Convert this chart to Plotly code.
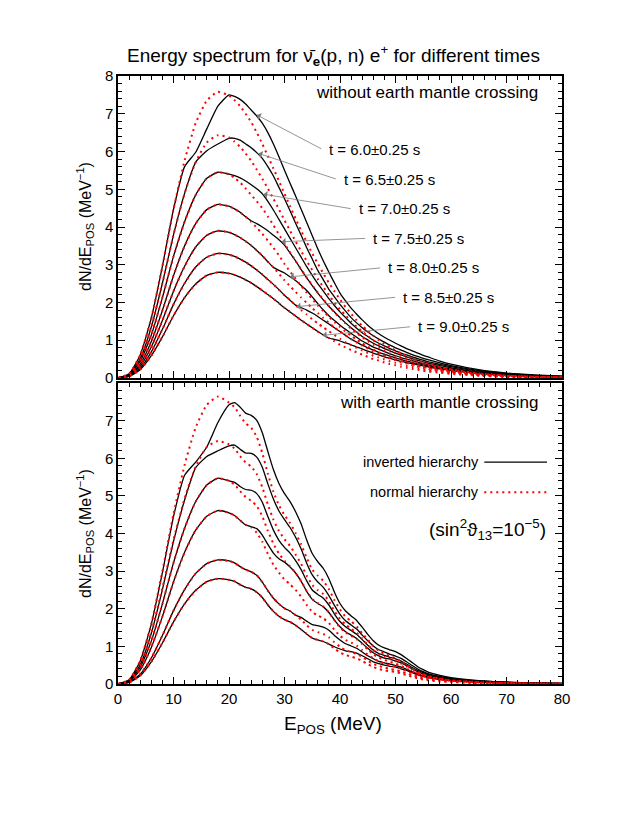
import plotly.graph_objects as go

INK = "#000000"
RED = "#ff0000"
ARROW_GRAY = "#7a7a7a"
FONT = "Liberation Sans, Arial, Helvetica, sans-serif"

# positron energy grid (MeV)
E_POS = [0, 2, 4, 6, 8, 10, 12, 14, 16, 18,
         20, 21, 22, 23, 24, 25, 26, 27, 28, 29, 30, 31, 32, 33, 34, 35, 36, 37, 38,
         39, 40, 41, 42, 43, 44, 45, 46, 47, 48, 49, 50, 51, 52, 53, 54, 55, 56,
         58, 60, 65, 70, 75, 80]

TIMES = ["6.0", "6.5", "7.0", "7.5", "8.0", "8.5", "9.0"]

# ---- top panel: without earth mantle crossing ----
# inverted hierarchy (solid black)
TOP_INV_60 = [0, 0.11, 0.61, 1.59, 2.96, 4.47, 5.6, 5.98, 6.6, 7.2,
              7.5, 7.46, 7.38, 7.26, 7.1, 6.94, 6.75, 6.5, 6.2, 5.86, 5.5, 5.16, 4.82, 4.47, 4.12, 3.77, 3.42, 3.1, 2.8,
              2.52, 2.25, 2.04, 1.85, 1.69, 1.54, 1.4, 1.28, 1.17, 1.08, 1.0, 0.92, 0.85, 0.78, 0.72, 0.66, 0.6, 0.55,
              0.45, 0.37, 0.22, 0.13, 0.08, 0.05]
TOP_INV_65 = [0, 0.1, 0.51, 1.35, 2.51, 3.79, 4.89, 5.72, 6.02, 6.2,
              6.35, 6.35, 6.3, 6.2, 6.1, 5.97, 5.82, 5.6, 5.35, 5.05, 4.75, 4.43, 4.1, 3.78, 3.45, 3.15, 2.85, 2.6, 2.35,
              2.15, 1.95, 1.77, 1.6, 1.46, 1.33, 1.22, 1.12, 1.03, 0.95, 0.87, 0.8, 0.74, 0.68, 0.62, 0.57, 0.52, 0.48,
              0.4, 0.33, 0.2, 0.12, 0.07, 0.045]
TOP_INV_70 = [0, 0.08, 0.44, 1.14, 2.13, 3.22, 4.14, 4.85, 5.29, 5.45,
              5.4, 5.36, 5.3, 5.22, 5.12, 5.01, 4.88, 4.68, 4.45, 4.2, 3.95, 3.7, 3.45, 3.2, 2.95, 2.72, 2.5, 2.3, 2.1,
              1.92, 1.75, 1.6, 1.45, 1.32, 1.2, 1.1, 1.0, 0.92, 0.85, 0.78, 0.72, 0.66, 0.61, 0.56, 0.51, 0.47, 0.43,
              0.36, 0.3, 0.18, 0.11, 0.065, 0.04]
TOP_INV_75 = [0, 0.07, 0.37, 0.97, 1.79, 2.71, 3.5, 4.09, 4.46, 4.6,
              4.55, 4.48, 4.39, 4.27, 4.16, 4.09, 4.0, 3.9, 3.78, 3.66, 3.52, 3.31, 3.1, 2.87, 2.65, 2.45, 2.25, 2.07, 1.9,
              1.75, 1.6, 1.46, 1.33, 1.21, 1.1, 1.01, 0.92, 0.85, 0.78, 0.72, 0.66, 0.61, 0.56, 0.51, 0.47, 0.43, 0.39,
              0.33, 0.27, 0.16, 0.1, 0.06, 0.035]
TOP_INV_80 = [0, 0.06, 0.31, 0.82, 1.52, 2.3, 2.96, 3.47, 3.78, 3.9,
              3.86, 3.8, 3.72, 3.62, 3.51, 3.38, 3.24, 3.08, 2.93, 2.85, 2.78, 2.68, 2.58, 2.45, 2.32, 2.15, 1.97, 1.8, 1.65,
              1.52, 1.4, 1.29, 1.18, 1.08, 0.98, 0.9, 0.82, 0.76, 0.7, 0.64, 0.59, 0.54, 0.5, 0.46, 0.42, 0.38, 0.35,
              0.29, 0.24, 0.14, 0.085, 0.05, 0.03]
TOP_INV_85 = [0, 0.05, 0.26, 0.69, 1.29, 1.95, 2.51, 2.94, 3.2, 3.3,
              3.27, 3.22, 3.15, 3.07, 2.97, 2.86, 2.74, 2.61, 2.48, 2.34, 2.19, 2.06, 1.93, 1.86, 1.8, 1.72, 1.63, 1.53, 1.43,
              1.33, 1.23, 1.13, 1.03, 0.95, 0.87, 0.8, 0.74, 0.68, 0.63, 0.58, 0.53, 0.49, 0.45, 0.41, 0.38, 0.35, 0.32,
              0.26, 0.21, 0.13, 0.08, 0.045, 0.025]
TOP_INV_90 = [0, 0.04, 0.22, 0.59, 1.09, 1.65, 2.13, 2.49, 2.72, 2.8,
              2.77, 2.73, 2.67, 2.6, 2.52, 2.42, 2.32, 2.21, 2.1, 1.98, 1.86, 1.75, 1.64, 1.53, 1.43, 1.33, 1.23, 1.14, 1.06,
              1.02, 0.98, 0.93, 0.88, 0.82, 0.77, 0.71, 0.66, 0.61, 0.56, 0.52, 0.48, 0.44, 0.41, 0.38, 0.35, 0.32, 0.29,
              0.24, 0.2, 0.12, 0.07, 0.04, 0.02]

# normal hierarchy (red dotted)
TOP_NOR_60 = [0, 0.11, 0.61, 1.59, 2.96, 4.47, 5.76, 6.75, 7.35, 7.58,
              7.48, 7.36, 7.2, 7.0, 6.78, 6.5, 6.2, 5.88, 5.55, 5.22, 4.88, 4.55, 4.22, 3.9, 3.6, 3.3, 3.03, 2.77, 2.52,
              2.3, 2.08, 1.88, 1.7, 1.53, 1.38, 1.25, 1.12, 1.0, 0.9, 0.81, 0.73, 0.65, 0.58, 0.52, 0.46, 0.41, 0.37,
              0.29, 0.23, 0.12, 0.065, 0.035, 0.02]
TOP_NOR_65 = [0, 0.1, 0.51, 1.35, 2.51, 3.79, 4.89, 5.72, 6.24, 6.43,
              6.37, 6.26, 6.12, 5.95, 5.75, 5.52, 5.28, 5.02, 4.75, 4.47, 4.18, 3.9, 3.62, 3.36, 3.1, 2.86, 2.62, 2.41, 2.2,
              2.0, 1.82, 1.66, 1.5, 1.36, 1.23, 1.11, 1.0, 0.9, 0.81, 0.73, 0.66, 0.59, 0.53, 0.47, 0.42, 0.38, 0.34,
              0.27, 0.21, 0.11, 0.06, 0.032, 0.018]
TOP_NOR_70 = [0, 0.08, 0.44, 1.14, 2.13, 3.22, 4.14, 4.85, 5.29, 5.45,
              5.4, 5.3, 5.18, 5.02, 4.85, 4.68, 4.5, 4.28, 4.05, 3.8, 3.56, 3.33, 3.1, 2.88, 2.66, 2.46, 2.26, 2.08, 1.9,
              1.74, 1.58, 1.44, 1.31, 1.19, 1.08, 0.98, 0.88, 0.8, 0.72, 0.65, 0.58, 0.52, 0.47, 0.42, 0.38, 0.34, 0.3,
              0.24, 0.19, 0.1, 0.055, 0.03, 0.016]
TOP_NOR_75 = [0, 0.07, 0.37, 0.97, 1.79, 2.71, 3.5, 4.09, 4.46, 4.6,
              4.55, 4.48, 4.39, 4.27, 4.14, 3.98, 3.82, 3.64, 3.45, 3.25, 3.02, 2.82, 2.63, 2.44, 2.26, 2.09, 1.92, 1.77, 1.62,
              1.48, 1.35, 1.23, 1.12, 1.02, 0.92, 0.83, 0.75, 0.68, 0.61, 0.55, 0.5, 0.45, 0.4, 0.36, 0.32, 0.29, 0.26,
              0.21, 0.16, 0.09, 0.048, 0.026, 0.014]
TOP_NOR_80 = [0, 0.06, 0.31, 0.82, 1.52, 2.3, 2.96, 3.47, 3.78, 3.9,
              3.86, 3.8, 3.72, 3.62, 3.51, 3.38, 3.24, 3.08, 2.93, 2.76, 2.59, 2.43, 2.28, 2.13, 1.99, 1.85, 1.72, 1.59, 1.46,
              1.34, 1.23, 1.13, 1.03, 0.94, 0.86, 0.78, 0.7, 0.64, 0.58, 0.52, 0.47, 0.42, 0.38, 0.34, 0.3, 0.27, 0.24,
              0.2, 0.16, 0.08, 0.043, 0.023, 0.012]
TOP_NOR_85 = [0, 0.05, 0.26, 0.69, 1.29, 1.95, 2.51, 2.94, 3.2, 3.3,
              3.27, 3.22, 3.15, 3.07, 2.97, 2.86, 2.74, 2.61, 2.48, 2.34, 2.19, 2.06, 1.93, 1.8, 1.68, 1.56, 1.45, 1.34, 1.24,
              1.14, 1.04, 0.95, 0.87, 0.8, 0.73, 0.66, 0.59, 0.54, 0.49, 0.44, 0.4, 0.36, 0.32, 0.29, 0.26, 0.23, 0.2,
              0.17, 0.13, 0.07, 0.036, 0.02, 0.01]
TOP_NOR_90 = [0, 0.04, 0.22, 0.59, 1.09, 1.65, 2.13, 2.49, 2.72, 2.8,
              2.77, 2.73, 2.67, 2.6, 2.52, 2.42, 2.32, 2.21, 2.1, 1.98, 1.86, 1.75, 1.64, 1.53, 1.43, 1.33, 1.23, 1.14, 1.06,
              0.97, 0.88, 0.81, 0.74, 0.68, 0.62, 0.56, 0.5, 0.46, 0.41, 0.37, 0.34, 0.3, 0.27, 0.24, 0.22, 0.19, 0.17,
              0.14, 0.11, 0.06, 0.03, 0.017, 0.008]

# ---- bottom panel: with earth mantle crossing (no t = 8.0 curve) ----
BOT_INV_60 = [0, 0.11, 0.61, 1.59, 2.96, 4.45, 5.55, 5.9, 6.3, 6.95,
              7.42, 7.48, 7.36, 7.2, 7.14, 7.01, 6.68, 6.18, 5.7, 5.33, 5.06, 4.85, 4.58, 4.25, 3.83, 3.47, 3.25, 3.07, 2.8,
              2.44, 2.14, 1.94, 1.81, 1.69, 1.51, 1.32, 1.15, 1.03, 0.96, 0.91, 0.86, 0.78, 0.68, 0.57, 0.46, 0.38, 0.31,
              0.23, 0.17, 0.09, 0.05, 0.03, 0.017]
BOT_INV_65 = [0, 0.1, 0.51, 1.35, 2.51, 3.79, 4.89, 5.75, 6.05, 6.2,
              6.33, 6.35, 6.24, 6.14, 6.13, 6.03, 5.76, 5.32, 4.92, 4.6, 4.37, 4.16, 3.9, 3.59, 3.21, 2.9, 2.71, 2.57, 2.35,
              2.09, 1.85, 1.68, 1.57, 1.46, 1.3, 1.15, 1.01, 0.91, 0.85, 0.79, 0.74, 0.68, 0.59, 0.49, 0.4, 0.33, 0.27,
              0.2, 0.15, 0.08, 0.046, 0.025, 0.015]
BOT_INV_70 = [0, 0.08, 0.44, 1.14, 2.13, 3.22, 4.14, 4.85, 5.29, 5.47,
              5.4, 5.36, 5.25, 5.17, 5.15, 5.06, 4.83, 4.45, 4.09, 3.82, 3.63, 3.48, 3.28, 3.04, 2.74, 2.5, 2.38, 2.28, 2.1,
              1.86, 1.66, 1.52, 1.42, 1.32, 1.18, 1.03, 0.9, 0.81, 0.76, 0.71, 0.67, 0.61, 0.53, 0.44, 0.36, 0.3, 0.25,
              0.18, 0.135, 0.07, 0.042, 0.023, 0.013]
BOT_INV_75 = [0, 0.07, 0.37, 0.97, 1.79, 2.71, 3.5, 4.09, 4.46, 4.61,
              4.55, 4.48, 4.35, 4.23, 4.18, 4.13, 3.96, 3.71, 3.48, 3.33, 3.24, 3.11, 2.95, 2.73, 2.46, 2.25, 2.14, 2.05, 1.9,
              1.7, 1.52, 1.39, 1.3, 1.21, 1.08, 0.95, 0.83, 0.75, 0.69, 0.66, 0.61, 0.56, 0.49, 0.4, 0.33, 0.27, 0.22,
              0.165, 0.12, 0.064, 0.038, 0.022, 0.012]
BOT_INV_85 = [0, 0.05, 0.26, 0.69, 1.29, 1.95, 2.51, 2.94, 3.2, 3.3,
              3.27, 3.22, 3.12, 3.04, 2.98, 2.89, 2.71, 2.48, 2.28, 2.13, 2.01, 1.94, 1.83, 1.77, 1.67, 1.58, 1.55, 1.51, 1.43,
              1.29, 1.17, 1.07, 1.01, 0.95, 0.85, 0.75, 0.67, 0.6, 0.56, 0.53, 0.49, 0.45, 0.39, 0.32, 0.27, 0.22, 0.18,
              0.13, 0.095, 0.052, 0.03, 0.016, 0.008]
BOT_INV_90 = [0, 0.04, 0.22, 0.59, 1.09, 1.65, 2.13, 2.49, 2.72, 2.8,
              2.77, 2.73, 2.64, 2.57, 2.53, 2.44, 2.3, 2.1, 1.93, 1.8, 1.71, 1.65, 1.56, 1.45, 1.33, 1.22, 1.17, 1.13, 1.06,
              0.99, 0.93, 0.88, 0.86, 0.82, 0.75, 0.67, 0.59, 0.54, 0.5, 0.47, 0.45, 0.4, 0.36, 0.3, 0.245, 0.2, 0.165,
              0.12, 0.09, 0.048, 0.027, 0.014, 0.007]

BOT_NOR_60 = [0, 0.11, 0.62, 1.6, 3.0, 4.52, 5.82, 6.82, 7.42, 7.64,
              7.48, 7.36, 7.13, 6.93, 6.81, 6.57, 6.14, 5.59, 5.11, 4.75, 4.49, 4.28, 4.01, 3.71, 3.35, 3.04, 2.88, 2.74, 2.52,
              2.23, 1.98, 1.79, 1.67, 1.53, 1.35, 1.18, 1.01, 0.88, 0.8, 0.74, 0.68, 0.6, 0.5, 0.41, 0.32, 0.26, 0.21,
              0.15, 0.1, 0.05, 0.025, 0.013, 0.007]
BOT_NOR_65 = [0, 0.1, 0.52, 1.37, 2.55, 3.83, 4.93, 5.78, 6.3, 6.46,
              6.37, 6.26, 6.06, 5.89, 5.78, 5.58, 5.23, 4.77, 4.37, 4.07, 3.85, 3.67, 3.44, 3.19, 2.88, 2.63, 2.49, 2.39, 2.2,
              1.94, 1.73, 1.58, 1.47, 1.36, 1.21, 1.04, 0.9, 0.79, 0.72, 0.66, 0.61, 0.54, 0.46, 0.37, 0.29, 0.24, 0.19,
              0.14, 0.09, 0.045, 0.023, 0.012, 0.006]
BOT_NOR_70 = [0, 0.08, 0.44, 1.14, 2.13, 3.22, 4.14, 4.85, 5.29, 5.47,
              5.4, 5.3, 5.13, 4.97, 4.87, 4.73, 4.46, 4.07, 3.73, 3.46, 3.28, 3.13, 2.95, 2.74, 2.47, 2.26, 2.15, 2.06, 1.9,
              1.69, 1.5, 1.37, 1.28, 1.19, 1.06, 0.92, 0.79, 0.7, 0.64, 0.59, 0.54, 0.48, 0.41, 0.33, 0.27, 0.21, 0.17,
              0.12, 0.085, 0.04, 0.021, 0.011, 0.005]
BOT_NOR_75 = [0, 0.07, 0.37, 0.97, 1.79, 2.71, 3.5, 4.09, 4.46, 4.61,
              4.55, 4.48, 4.35, 4.23, 4.16, 4.02, 3.78, 3.46, 3.17, 2.96, 2.78, 2.65, 2.5, 2.32, 2.1, 1.92, 1.82, 1.75, 1.62,
              1.44, 1.28, 1.17, 1.1, 1.02, 0.9, 0.78, 0.68, 0.6, 0.54, 0.5, 0.47, 0.41, 0.35, 0.28, 0.22, 0.18, 0.15,
              0.105, 0.07, 0.036, 0.018, 0.009, 0.005]
BOT_NOR_85 = [0, 0.05, 0.26, 0.69, 1.29, 1.95, 2.51, 2.94, 3.2, 3.3,
              3.27, 3.22, 3.12, 3.04, 2.98, 2.89, 2.71, 2.48, 2.28, 2.13, 2.01, 1.94, 1.83, 1.71, 1.56, 1.44, 1.38, 1.33, 1.24,
              1.11, 0.99, 0.9, 0.85, 0.8, 0.72, 0.62, 0.53, 0.48, 0.44, 0.4, 0.37, 0.33, 0.28, 0.23, 0.18, 0.145, 0.115,
              0.085, 0.06, 0.028, 0.014, 0.007, 0.003]
BOT_NOR_90 = [0, 0.04, 0.22, 0.59, 1.09, 1.65, 2.13, 2.49, 2.72, 2.8,
              2.77, 2.73, 2.64, 2.57, 2.53, 2.44, 2.3, 2.1, 1.93, 1.8, 1.71, 1.65, 1.56, 1.45, 1.33, 1.22, 1.17, 1.13, 1.06,
              0.94, 0.84, 0.77, 0.73, 0.68, 0.61, 0.53, 0.45, 0.4, 0.36, 0.34, 0.32, 0.28, 0.235, 0.19, 0.15, 0.12, 0.097,
              0.07, 0.05, 0.024, 0.011, 0.006, 0.003]

TOP_INV = [TOP_INV_60, TOP_INV_65, TOP_INV_70, TOP_INV_75, TOP_INV_80, TOP_INV_85, TOP_INV_90]
TOP_NOR = [TOP_NOR_60, TOP_NOR_65, TOP_NOR_70, TOP_NOR_75, TOP_NOR_80, TOP_NOR_85, TOP_NOR_90]
BOT_INV = [BOT_INV_60, BOT_INV_65, BOT_INV_70, BOT_INV_75, BOT_INV_85, BOT_INV_90]
BOT_NOR = [BOT_NOR_60, BOT_NOR_65, BOT_NOR_70, BOT_NOR_75, BOT_NOR_85, BOT_NOR_90]

for s in TOP_INV + TOP_NOR + BOT_INV + BOT_NOR:
    assert len(s) == len(E_POS), len(s)

# arrow tip / tail (data coords, top panel) for the time labels
ARROW_TIP = [(25.0, 6.97), (25.3, 5.95), (26.2, 4.87), (29.5, 3.61), (31.0, 2.68), (32.2, 1.89), (36.9, 1.13)]
ARROW_TAIL = [(36.9, 6.05), (39.5, 5.26), (42.2, 4.48), (44.8, 3.70), (47.5, 2.92), (50.2, 2.14), (52.9, 1.36)]

SOLID = dict(color=INK, width=1.3, shape="spline", smoothing=0.5)
DOTTED = dict(color=RED, width=2, dash="2px,4px", shape="spline", smoothing=0.5)

fig = go.Figure()
for ys in TOP_INV:
    fig.add_trace(go.Scatter(x=E_POS, y=ys, mode="lines", line=SOLID, xaxis="x2", yaxis="y2", hoverinfo="skip"))
for ys in TOP_NOR:
    fig.add_trace(go.Scatter(x=E_POS, y=ys, mode="lines", line=DOTTED, xaxis="x2", yaxis="y2", hoverinfo="skip"))
for ys in BOT_INV:
    fig.add_trace(go.Scatter(x=E_POS, y=ys, mode="lines", line=SOLID, xaxis="x", yaxis="y", hoverinfo="skip"))
for ys in BOT_NOR:
    fig.add_trace(go.Scatter(x=E_POS, y=ys, mode="lines", line=DOTTED, xaxis="x", yaxis="y", hoverinfo="skip"))

AXIS = dict(
    showline=True, linecolor=INK, linewidth=1.5, mirror="allticks",
    ticks="inside", ticklen=7, tickwidth=1, tickcolor=INK,
    showgrid=False, zeroline=False,
    tickfont=dict(size=15, color=INK),
)
X_AXIS = dict(**AXIS, range=[0, 80], tick0=0, dtick=10,
              minor=dict(ticks="inside", ticklen=4, dtick=2, tickcolor=INK))
Y_AXIS = dict(**AXIS, range=[0, 8],
              minor=dict(ticks="inside", ticklen=4, dtick=0.2, tickcolor=INK))

annotations = []
for (tx, ty), (ax, ay), t in zip(ARROW_TIP, ARROW_TAIL, TIMES):
    annotations.append(dict(
        x=tx, y=ty, ax=ax, ay=ay, xref="x2", yref="y2", axref="x2", ayref="y2",
        text="", showarrow=True, arrowhead=1, arrowsize=1.6, arrowwidth=0.8,
        arrowcolor=ARROW_GRAY, standoff=0,
    ))
    annotations.append(dict(
        x=ax + 0.8, y=ay, xref="x2", yref="y2", text=f"t = {t}±0.25 s",
        showarrow=False, xanchor="left", yanchor="middle",
        font=dict(size=15, color=INK),
    ))

annotations += [
    dict(x=0.486, y=1.033, xref="paper", yref="paper", showarrow=False,
         text="Energy spectrum for ν̄<sub><b>e</b></sub>(p, n) e<sup>+</sup> for different times",
         font=dict(size=19, color=INK), xanchor="center", yanchor="middle"),
    dict(x=76, y=7.55, xref="x2", yref="y2", text="without earth mantle crossing",
         showarrow=False, xanchor="right", yanchor="middle", font=dict(size=17, color=INK)),
    dict(x=76, y=7.47, xref="x", yref="y", text="with earth mantle crossing",
         showarrow=False, xanchor="right", yanchor="middle", font=dict(size=17, color=INK)),
    dict(x=65.4, y=5.9, xref="x", yref="y", text="inverted hierarchy",
         showarrow=False, xanchor="right", yanchor="middle", font=dict(size=14.5, color=INK)),
    dict(x=65.4, y=5.1, xref="x", yref="y", text="normal hierarchy",
         showarrow=False, xanchor="right", yanchor="middle", font=dict(size=14.5, color=INK)),
    dict(x=77.4, y=4.12, xref="x", yref="y",
         text="(sin<sup>2</sup>ϑ<sub>13</sub>=10<sup>−5</sup>)",
         showarrow=False, xanchor="right", yanchor="middle", font=dict(size=19, color=INK)),
    dict(x=0.484, y=-0.068, xref="paper", yref="paper", text="E<sub>POS</sub> (MeV)",
         showarrow=False, xanchor="center", yanchor="middle", font=dict(size=19, color=INK)),
    dict(x=-0.074, y=0.752, xref="paper", yref="paper", textangle=-90,
         text="dN/dE<sub>POS</sub> (MeV<sup>−1</sup>)", xanchor="center", yanchor="middle",
         showarrow=False, font=dict(size=16, color=INK)),
    dict(x=-0.074, y=0.247, xref="paper", yref="paper", textangle=-90,
         text="dN/dE<sub>POS</sub> (MeV<sup>−1</sup>)", xanchor="center", yanchor="middle",
         showarrow=False, font=dict(size=16, color=INK)),
]

# legend keys
shapes = [
    dict(type="line", xref="x", yref="y", x0=66.0, x1=77.3, y0=5.9, y1=5.9,
         line=dict(color=INK, width=1.3)),
    dict(type="line", xref="x", yref="y", x0=66.0, x1=77.3, y0=5.1, y1=5.1,
         line=dict(color=RED, width=2, dash="2px,4px")),
]

fig.update_layout(
    width=638, height=825, autosize=False,
    paper_bgcolor="white", plot_bgcolor="white",
    font=dict(family=FONT, color=INK),
    margin=dict(l=118, r=76, t=76, b=141),
    showlegend=False,
    xaxis=dict(**X_AXIS, domain=[0, 1], anchor="y"),
    yaxis=dict(**Y_AXIS, domain=[0, 0.495], tickvals=[0, 1, 2, 3, 4, 5, 6, 7], anchor="x"),
    xaxis2=dict(**X_AXIS, domain=[0, 1], anchor="y2", matches="x", showticklabels=False),
    yaxis2=dict(**Y_AXIS, domain=[0.5033, 1], dtick=1, anchor="x2"),
    annotations=annotations,
    shapes=shapes,
)

fig.write_html("out.html", config=dict(displayModeBar=False),
               post_script="document.body.style.margin='0';")
